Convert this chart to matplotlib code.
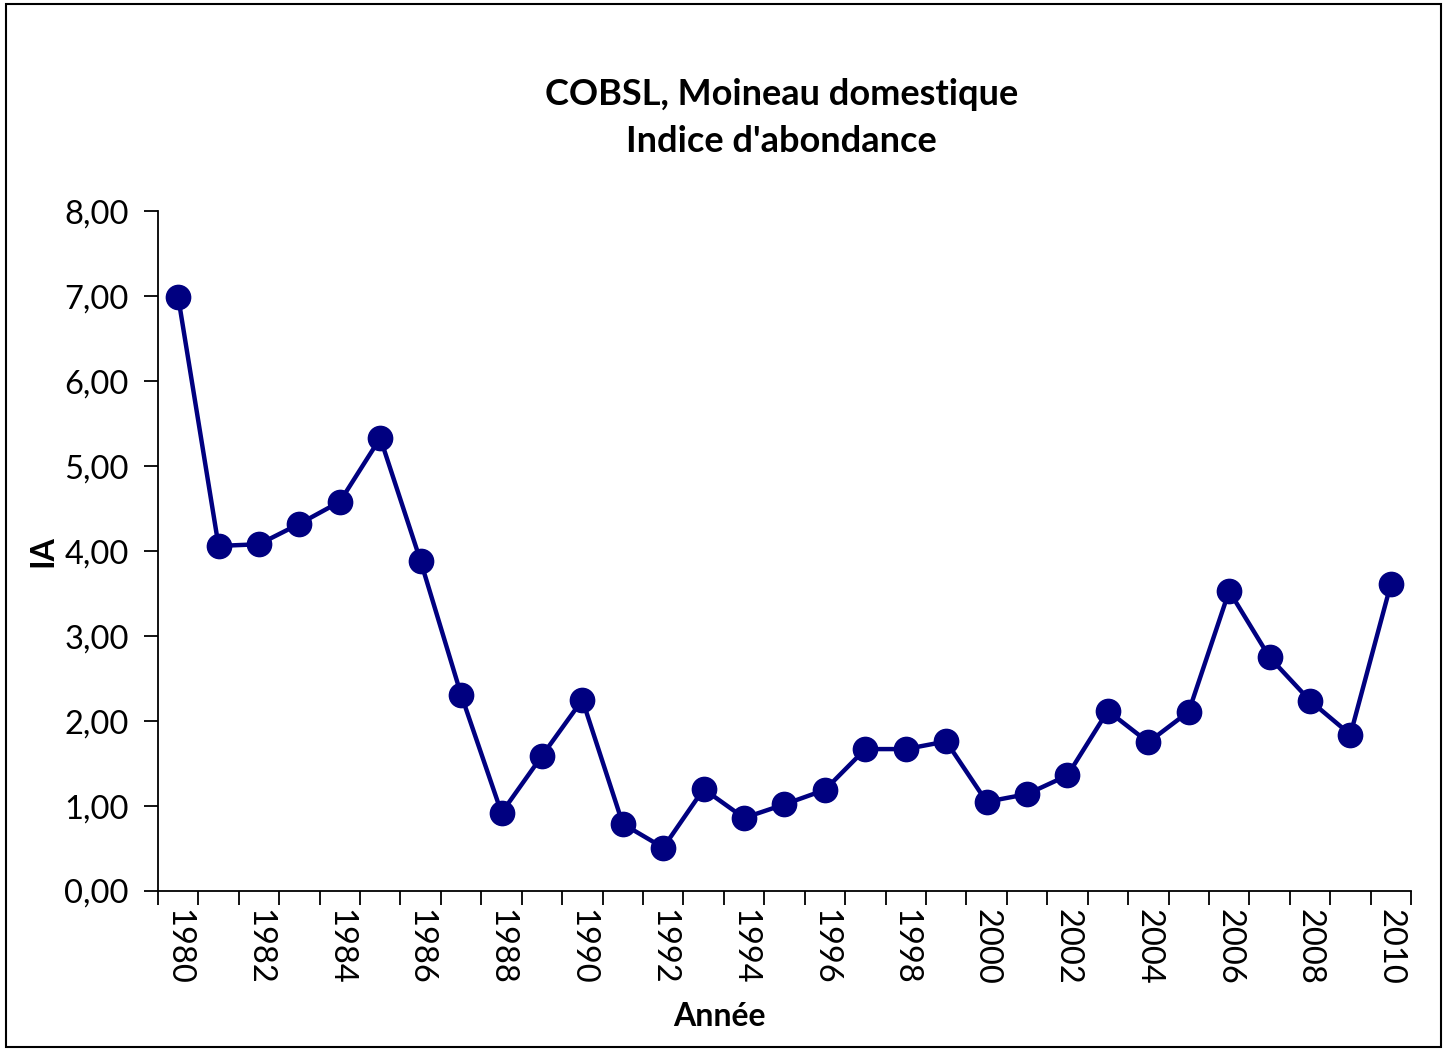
import numpy as np
import matplotlib.pyplot as plt
from matplotlib.patches import Rectangle

plt.rcParams['font.family'] = ['Lato', 'DejaVu Sans']

## Daten
annees = list(range(1980, 2011))
ia = [6.99, 4.06, 4.08, 4.32, 4.58, 5.33, 3.88, 2.31, 0.92, 1.59, 2.25,
      0.79, 0.51, 1.20, 0.86, 1.02, 1.19, 1.67, 1.67, 1.76, 1.05, 1.14,
      1.36, 2.12, 1.75, 2.11, 3.53, 2.75, 2.24, 1.84, 3.61]

titre = "COBSL, Moineau domestique\nIndice d'abondance"

## Plot
fig = plt.figure(figsize=(14.45, 10.5), dpi=100)
ax = fig.add_axes([0.1093, 0.1514, 0.8672, 0.6476])

pos = np.arange(len(annees))
ax.plot(pos, ia, '-o', color='#000080', lw=3.2, ms=17.5, clip_on=False)

ax.set_xlim(-0.5, len(annees) - 0.5)
ax.set_ylim(0, 8)
ax.set_yticks(np.arange(0, 9, 1))
ax.set_yticklabels([f"{v:.2f}".replace('.', ',') for v in range(9)], fontsize=23.5)

# Excel-artige Kategorienachse
ax.set_xticks(np.arange(-0.5, len(annees), 1))
ax.set_xticklabels([])
ax.set_xticks(pos[::2], minor=True)
ax.set_xticklabels([str(a) for a in annees[::2]], minor=True, rotation=270,
                   fontsize=23.5, va='top', ha='center')
ax.tick_params(axis='x', which='minor', length=0, pad=13)
ax.tick_params(axis='x', which='major', direction='out', length=10, width=1.3)
ax.tick_params(axis='y', direction='out', length=10, width=1.3, pad=11)

for s in ['top', 'right']:
    ax.spines[s].set_visible(False)
for s in ['left', 'bottom']:
    ax.spines[s].set_linewidth(1.3)

ax.set_ylabel('IA', fontsize=23, fontweight='bold', labelpad=5)
fig.text(719 / 1445, 1 - 1016 / 1050, 'Année', ha='center', va='center',
         fontsize=23, fontweight='bold')
fig.text(0.541, 1 - 118 / 1050, titre, ha='center', va='center', fontsize=26,
         fontweight='bold', linespacing=1.5)

# Rahmen um das Diagramm
fig.patches.append(Rectangle((0.004, 0.003), 0.993, 0.993, transform=fig.transFigure,
                             fill=False, edgecolor='black', lw=1.5))

plt.savefig('out.png', dpi=100)
